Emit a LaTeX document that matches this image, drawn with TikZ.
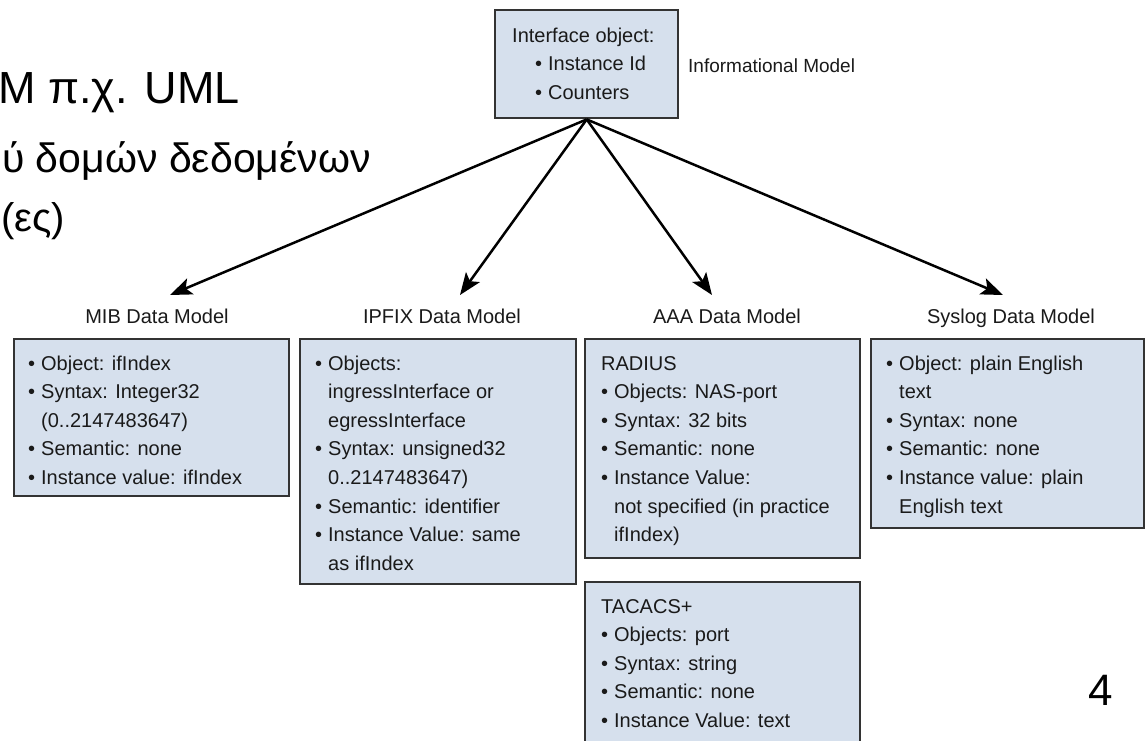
\documentclass[tikz,border=0pt]{standalone}
\usepackage{fontspec}
\setmainfont{Liberation Sans}
\usetikzlibrary{arrows.meta}
\definecolor{boxfill}{HTML}{D6E0ED}
\definecolor{boxline}{HTML}{333333}
\definecolor{txt}{HTML}{1A1A1A}
\newcommand\itm{\makebox[13pt][l]{•}}
\newcommand\cnt{\hspace*{13pt}}
\newcommand\lns[1]{\begin{tabular}[t]{@{}l@{}}#1\end{tabular}}
\begin{document}
\begin{tikzpicture}[x=1pt,y=-1pt,
  panel/.style={draw=boxline, fill=boxfill, line width=2.4pt, anchor=north west, inner sep=0pt},
  body/.style={anchor=base west, inner sep=0pt, text=txt, font=\fontsize{20}{28.6}\selectfont},
  title/.style={anchor=base, inner sep=0pt, text=txt, font=\fontsize{20}{24}\selectfont},
  slide/.style={anchor=base east, inner sep=0pt, text=black},
  link/.style={line width=2.5pt, -{Stealth[length=22pt,width=17pt,inset=5pt]}}]
\useasboundingbox (0,0) rectangle (1145,740);
\clip (0,0) rectangle (1145,740);
\fill[white] (0,0) rectangle (1145,740);

% slide text
\node[slide, font=\fontsize{45}{52}\selectfont] (g1) at (240,103) {M π.χ. UML};
\node[slide, font=\fontsize{41}{52}\selectfont] (g2) at (371,172) {ύ δομών δεδομένων};
\node[slide, anchor=base west, font=\fontsize{40}{52}\selectfont] (g3) at (1,231) {(ες)};
\node[slide, font=\fontsize{44}{52}\selectfont] (pg) at (1113,705) {4};

% top box
\node[panel, minimum width=183pt, minimum height=108pt] (top) at (494,9) {};
\node[body] (toptxt) at (512,42) {\lns{Interface object:\\ \hspace*{23pt}\itm Instance Id\\ \hspace*{23pt}\itm Counters}};
\node[body] (info) at (688,72) {\fontsize{19}{24}\selectfont Informational Model};

% labels
\node[title] (lmib) at (157,323) {MIB Data Model};
\node[title] (lipfix) at (442,323) {IPFIX Data Model};
\node[title] (laaa) at (727,323) {AAA Data Model};
\node[title] (lsys) at (1011,323) {Syslog Data Model};

% arrow tips
\coordinate (tmib) at (170,295);
\coordinate (tipfix) at (460,295);
\coordinate (taaa) at (712,295);
\coordinate (tsys) at (1003,295);
\draw[link] (top.south) -- (tmib);
\draw[link] (top.south) -- (tipfix);
\draw[link] (top.south) -- (taaa);
\draw[link] (top.south) -- (tsys);

% panels
\node[panel, minimum width=275pt, minimum height=157pt] (mib) at (13,338) {};
\node[body] (mibtxt) at (28,370) {\lns{\itm Object: ifIndex\\ \itm Syntax: Integer32\\ \cnt(0..2147483647)\\ \itm Semantic: none\\ \itm Instance value: ifIndex}};

\node[panel, minimum width=276pt, minimum height=245pt] (ipfix) at (299,338) {};
\node[body] (ipfixtxt) at (315,370) {\lns{\itm Objects:\\ \cnt ingressInterface or\\ \cnt egressInterface\\ \itm Syntax: unsigned32\\ \cnt 0..2147483647)\\ \itm Semantic: identifier\\ \itm Instance Value: same\\ \cnt as ifIndex}};

\node[panel, minimum width=275pt, minimum height=219pt] (radius) at (584,338) {};
\node[body] (radiustxt) at (601,370) {\lns{RADIUS\\ \itm Objects: NAS-port\\ \itm Syntax: 32 bits\\ \itm Semantic: none\\ \itm Instance Value:\\ \cnt not specified (in practice\\ \cnt ifIndex)}};

\node[panel, minimum width=275pt, minimum height=190pt] (tacacs) at (584,581) {};
\node[body] (tacacstxt) at (601,613) {\lns{TACACS+\\ \itm Objects: port\\ \itm Syntax: string\\ \itm Semantic: none\\ \itm Instance Value: text}};

\node[panel, minimum width=273pt, minimum height=189pt] (sys) at (870,338) {};
\node[body] (systxt) at (886,370) {\lns{\itm Object: plain English\\ \cnt text\\ \itm Syntax: none\\ \itm Semantic: none\\ \itm Instance value: plain\\ \cnt English text}};
\end{tikzpicture}
\end{document}
